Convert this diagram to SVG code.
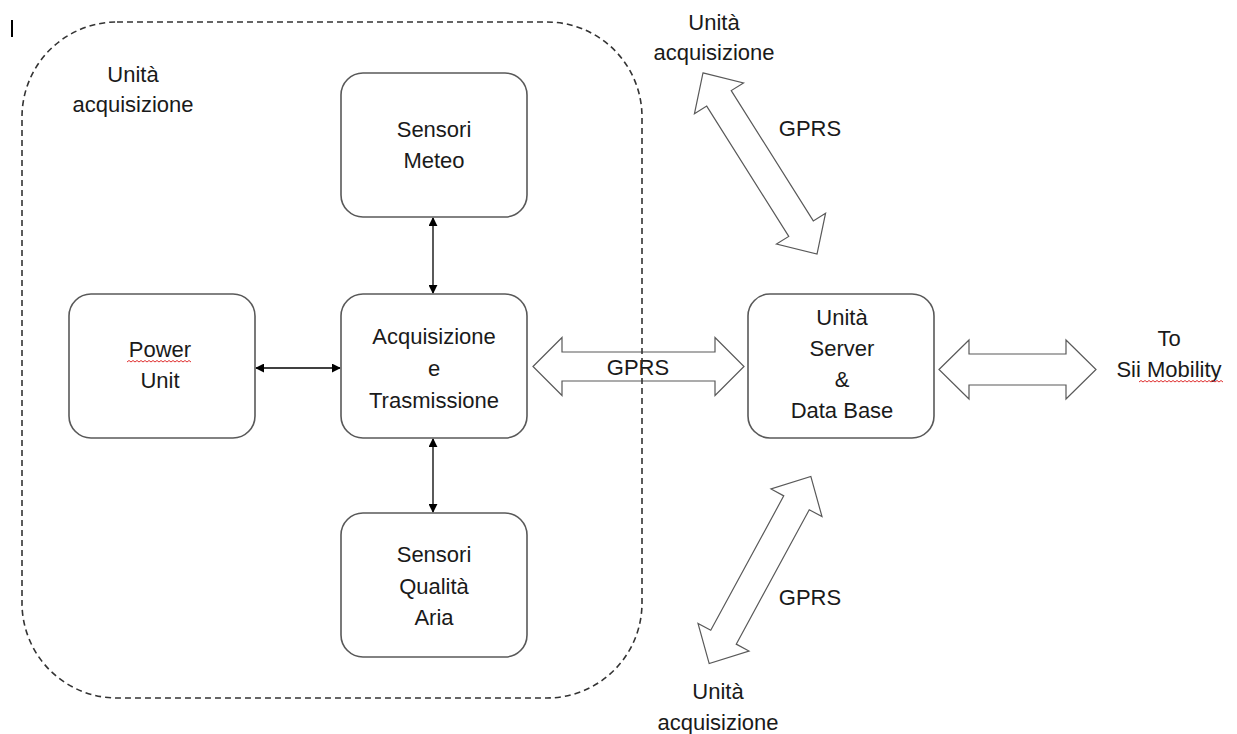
<svg xmlns="http://www.w3.org/2000/svg" width="1237" height="734" viewBox="0 0 1237 734">
<defs>
<style>
.box{fill:#fff;stroke:#595959;stroke-width:1.6}
.t{font-family:"Liberation Sans",Arial,sans-serif;font-size:22px;fill:#1a1a1a;text-anchor:middle}
.ln{stroke:#000;stroke-width:1.3;fill:none;marker-start:url(#ah);marker-end:url(#ah)}
.blk{fill:#fff;stroke:#595959;stroke-width:1.2;stroke-linejoin:miter}
.wave{fill:none;stroke:#e03030;stroke-width:1}
</style>
<marker id="ah" viewBox="0 0 10 10" refX="9" refY="5" markerWidth="9" markerHeight="9" markerUnits="userSpaceOnUse" orient="auto-start-reverse">
<path d="M0,0 L10,5 L0,10 z" fill="#000"/>
</marker>
</defs>
<rect width="1237" height="734" fill="#fff"/>
<line x1="12" y1="20" x2="12" y2="37" stroke="#000" stroke-width="2"/>

<g id="connectors">
<line class="ln" x1="433" y1="218" x2="433" y2="293"/>
<line class="ln" x1="433" y1="439" x2="433" y2="512"/>
<line class="ln" x1="256" y1="368" x2="340" y2="368"/>
<polygon class="blk" transform="translate(638.5,366.5)" points="-105.5,0 -76.5,-29 -76.5,-14.5 76.5,-14.5 76.5,-29 105.5,0 76.5,29 76.5,14.5 -76.5,14.5 -76.5,29"/>
<polygon class="blk" transform="translate(1017.5,369.5)" points="-78.5,0 -48.5,-29.5 -48.5,-15.5 48.5,-15.5 48.5,-29.5 78.5,0 48.5,29.5 48.5,15.5 -48.5,15.5 -48.5,29.5"/>
<polygon class="blk" transform="translate(760,163.5) rotate(57.8)" points="-107,0 -77,-29 -77,-14.5 77,-14.5 77,-29 107,0 77,29 77,14.5 -77,14.5 -77,29"/>
<polygon class="blk" transform="translate(760,570) rotate(118.5)" points="-106.5,0 -76.5,-29 -76.5,-14.5 76.5,-14.5 76.5,-29 106.5,0 76.5,29 76.5,14.5 -76.5,14.5 -76.5,29"/>
<text class="t" x="638" y="375">GPRS</text>
<text class="t" x="810" y="136">GPRS</text>
<text class="t" x="810" y="605">GPRS</text>
</g>

<g id="container">
<rect x="22" y="22" width="620" height="676" rx="95" ry="95" fill="none" stroke="#333" stroke-width="1.6" stroke-dasharray="6,4"/>
<text class="t" x="133" y="82">Unità</text>
<text class="t" x="133" y="112">acquisizione</text>
</g>

<g id="sensori-meteo">
<rect class="box" x="341" y="73" width="186" height="144" rx="22"/>
<text class="t" x="434" y="137">Sensori</text>
<text class="t" x="434" y="168">Meteo</text>
</g>

<g id="power-unit">
<rect class="box" x="69" y="294" width="186" height="144" rx="22"/>
<text class="t" x="160" y="357">Power</text>
<path class="wave" d="M127,362 l2,-1.5 l2,1.5 l2,-1.5 l2,1.5 l2,-1.5 l2,1.5 l2,-1.5 l2,1.5 l2,-1.5 l2,1.5 l2,-1.5 l2,1.5 l2,-1.5 l2,1.5 l2,-1.5 l2,1.5 l2,-1.5 l2,1.5 l2,-1.5 l2,1.5 l2,-1.5 l2,1.5 l2,-1.5 l2,1.5 l2,-1.5 l2,1.5 l2,-1.5 l2,1.5 l2,-1.5 l2,1.5 l2,-1.5 l2,1.5"/>
<text class="t" x="160" y="388">Unit</text>
</g>

<g id="acquisizione">
<rect class="box" x="341" y="294" width="186" height="144" rx="22"/>
<text class="t" x="434" y="344">Acquisizione</text>
<text class="t" x="434" y="376">e</text>
<text class="t" x="434" y="408">Trasmissione</text>
</g>

<g id="sensori-aria">
<rect class="box" x="341" y="513" width="186" height="144" rx="22"/>
<text class="t" x="434" y="562">Sensori</text>
<text class="t" x="434" y="594">Qualità</text>
<text class="t" x="434" y="625">Aria</text>
</g>

<g id="server">
<rect class="box" x="748" y="294" width="186" height="144" rx="22"/>
<text class="t" x="842" y="325">Unità</text>
<text class="t" x="842" y="356">Server</text>
<text class="t" x="842" y="387">&amp;</text>
<text class="t" x="842" y="418">Data Base</text>
</g>

<g id="unita-top">
<text class="t" x="714" y="30">Unità</text>
<text class="t" x="714" y="60">acquisizione</text>
</g>

<g id="unita-bottom">
<text class="t" x="718" y="699">Unità</text>
<text class="t" x="718" y="730">acquisizione</text>
</g>

<g id="sii-mobility">
<text class="t" x="1169" y="346">To</text>
<text class="t" x="1169" y="377">Sii Mobility</text>
<path class="wave" d="M1139,382 l2,-1.5 l2,1.5 l2,-1.5 l2,1.5 l2,-1.5 l2,1.5 l2,-1.5 l2,1.5 l2,-1.5 l2,1.5 l2,-1.5 l2,1.5 l2,-1.5 l2,1.5 l2,-1.5 l2,1.5 l2,-1.5 l2,1.5 l2,-1.5 l2,1.5 l2,-1.5 l2,1.5 l2,-1.5 l2,1.5 l2,-1.5 l2,1.5 l2,-1.5 l2,1.5 l2,-1.5 l2,1.5 l2,-1.5 l2,1.5 l2,-1.5 l2,1.5 l2,-1.5 l2,1.5 l2,-1.5 l2,1.5 l2,-1.5 l2,1.5 l2,-1.5 l2,1.5"/>
</g>
</svg>
